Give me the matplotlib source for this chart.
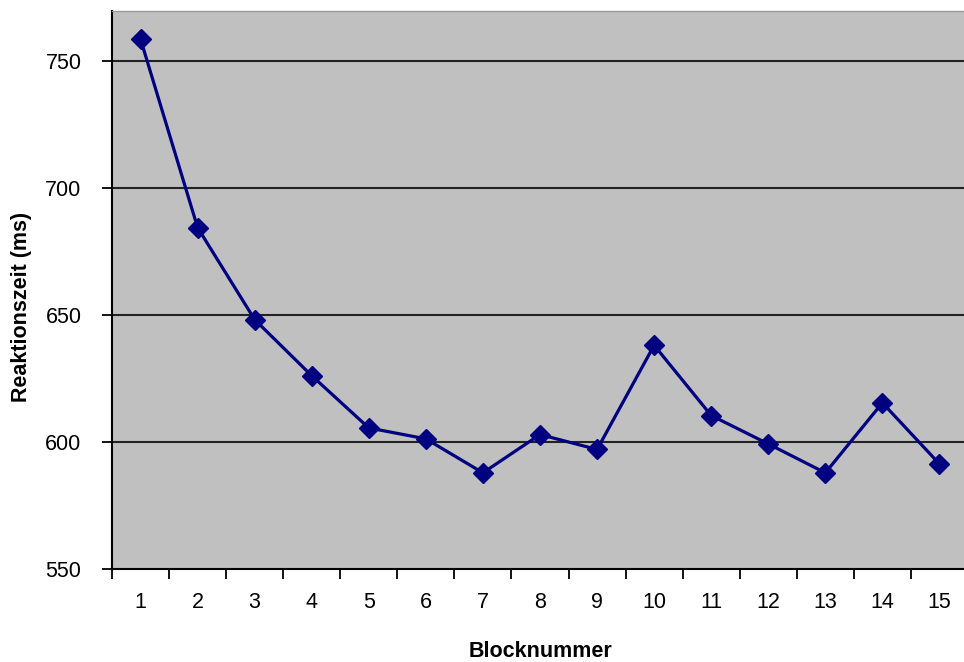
import numpy as np
import matplotlib
matplotlib.use('Agg')
import matplotlib.pyplot as plt
from matplotlib.ticker import FixedLocator

plt.rcParams['font.family'] = ['Liberation Sans', 'DejaVu Sans']

# data
blocks = ['1', '2', '3', '4', '5', '6', '7', '8', '9', '10', '11', '12', '13', '14', '15']
reaction_ms = [758.8, 684.5, 648.2, 626.1, 605.5, 601.2, 587.8, 602.9, 597.0,
               638.1, 610.4, 599.2, 587.8, 615.4, 591.3]
y_ticks = [550, 600, 650, 700, 750]

fig = plt.figure(figsize=(9.64, 6.62), dpi=100)
fig.patch.set_facecolor('white')
ax = fig.add_axes([112 / 964, 93.3 / 662, 856 / 964, 558 / 662])
ax.set_facecolor('#c0c0c0')

x = np.arange(len(blocks))
ax.plot(x, reaction_ms, color='#000080', linewidth=2.3, marker='D',
        markersize=10.5, markerfacecolor='#000080', markeredgecolor='#000080',
        zorder=3)

ax.set_xlim(-0.5, len(blocks) - 0.5)
ax.set_ylim(550, 770)

ax.set_yticks(y_ticks)
ax.set_yticklabels([str(v) for v in y_ticks], fontsize=15.5)
for v in y_ticks[1:]:
    ax.axhline(v, color='#222222', linewidth=1.5, zorder=1)

ax.set_xticks(x)
ax.set_xticklabels(blocks, fontsize=15.5)
ax.xaxis.set_minor_locator(FixedLocator(np.arange(-0.5, len(blocks), 1.0)))
ax.tick_params(axis='x', which='major', length=0, pad=17)
ax.tick_params(axis='x', which='minor', length=7, width=1.3, direction='out', color='black')
ax.tick_params(axis='y', length=7, width=1.3, direction='out', color='black', pad=15)

for side in ['left', 'bottom']:
    ax.spines[side].set_color('black')
    ax.spines[side].set_linewidth(1.5)
ax.spines['top'].set_color('#999999')
ax.spines['top'].set_linewidth(1.0)
ax.spines['right'].set_visible(False)

ax.set_xlabel('Blocknummer', fontsize=15.5, fontweight='bold')
ax.xaxis.set_label_coords(0.5, -0.13)
ax.set_ylabel('Reaktionszeit (ms)', fontsize=15.5, fontweight='bold')
ax.yaxis.set_label_coords(-0.093, 0.47)

fig.savefig('out.png', dpi=100)
